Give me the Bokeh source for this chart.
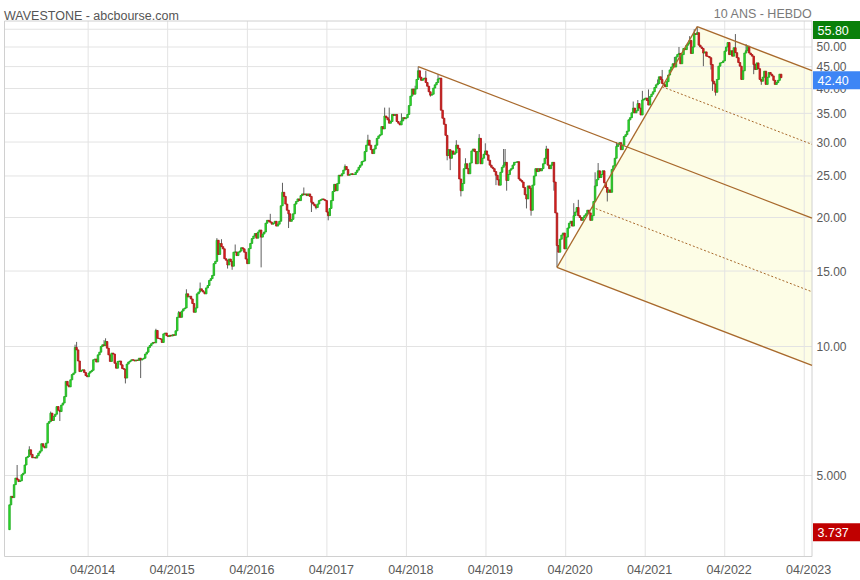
import numpy as np
import pandas as pd
from bokeh.plotting import figure
from bokeh.models import Range1d
from bokeh.core.properties import value
from bokeh.embed import file_html
from bokeh.resources import INLINE

# ---------------- data (weekly candles) ----------------
start_date = "2013-04-05"
first_open = 3.737
closes = [
    4.27, 4.47, 4.44, 4.76, 4.93, 4.89, 4.84, 4.86, 5.02, 5.06,
    5.29, 5.51, 5.54, 5.74, 5.60, 5.50, 5.51, 5.49, 5.56, 5.64,
    5.70, 5.93, 5.85, 5.80, 5.95, 6.62, 6.68, 6.99, 6.72, 6.87,
    6.95, 7.24, 7.10, 7.05, 7.30, 7.38, 7.64, 8.29, 8.12, 8.05,
    8.36, 8.60, 8.67, 9.95, 9.82, 9.25, 8.74, 8.80, 8.82, 8.70,
    8.55, 8.50, 8.67, 8.74, 8.80, 9.31, 9.35, 9.20, 9.56, 9.70,
    10.00, 10.09, 10.05, 10.27, 9.91, 9.56, 9.23, 9.65, 9.60, 9.14,
    8.90, 9.23, 9.25, 9.06, 8.88, 8.85, 8.44, 9.10, 9.20, 9.25,
    9.31, 9.30, 9.25, 9.30, 9.28, 9.39, 9.30, 9.35, 9.39, 9.60,
    9.70, 9.95, 10.05, 10.15, 10.22, 10.20, 10.90, 10.45, 10.44, 10.40,
    10.22, 10.70, 10.75, 10.60, 10.55, 10.62, 10.58, 10.65, 10.62, 10.88,
    11.70, 12.00, 11.70, 12.10, 12.24, 12.30, 13.27, 13.05, 13.10, 12.91,
    12.60, 12.02, 12.30, 13.27, 13.40, 13.63, 13.50, 13.40, 13.27, 13.70,
    13.88, 14.26, 14.40, 14.65, 15.61, 15.80, 17.70, 16.40, 17.39, 17.10,
    16.90, 16.03, 15.90, 15.50, 16.00, 15.80, 15.40, 16.60, 16.62, 16.30,
    16.60, 16.70, 17.00, 16.90, 16.60, 16.00, 15.61, 16.92, 17.40, 17.86,
    18.10, 18.35, 17.90, 18.50, 18.70, 18.00, 18.30, 18.50, 19.40, 19.70,
    19.60, 19.50, 19.30, 19.40, 19.60, 19.10, 19.30, 19.60, 21.30, 22.90,
    22.40, 21.50, 20.80, 20.40, 19.60, 19.80, 20.40, 21.50, 21.80, 22.10,
    21.90, 22.50, 22.70, 22.60, 22.70, 22.50, 22.70, 22.40, 21.70, 21.50,
    21.30, 21.10, 21.50, 21.90, 22.00, 22.10, 22.00, 21.90, 20.60, 20.20,
    21.00, 21.90, 23.00, 23.90, 23.10, 24.00, 25.10, 25.00, 25.30, 25.80,
    26.30, 25.90, 25.10, 25.20, 25.30, 25.20, 25.20, 25.50, 25.80, 26.20,
    26.50, 27.00, 27.10, 28.50, 29.50, 30.30, 29.50, 28.80, 28.20, 28.90,
    29.50, 30.60, 31.00, 31.20, 32.60, 32.20, 34.50, 34.20, 33.80, 33.20,
    33.50, 34.80, 34.60, 34.80, 33.50, 33.20, 32.90, 33.60, 34.20, 34.00,
    34.20, 34.80, 36.50, 38.40, 39.90, 38.80, 39.90, 42.00, 44.00, 42.50,
    41.80, 42.10, 42.30, 41.30, 40.50, 39.30, 38.60, 38.80, 40.10, 40.80,
    41.30, 42.10, 42.30, 35.60, 34.10, 33.00, 31.10, 27.90, 28.80, 27.50,
    28.60, 28.10, 28.30, 29.50, 29.00, 24.60, 23.10, 24.00, 26.00, 26.70,
    26.00, 25.30, 26.80, 28.60, 28.90, 28.50, 26.70, 28.50, 30.60, 26.70,
    27.50, 28.10, 28.60, 28.00, 27.20, 26.50, 26.20, 26.00, 25.60, 25.10,
    24.50, 23.80, 25.50, 26.20, 26.50, 26.90, 24.40, 25.20, 25.80, 26.00,
    26.50, 26.90, 26.90, 27.00, 24.60, 24.40, 24.20, 23.50, 22.60, 22.10,
    23.70, 23.40, 20.80, 23.80, 25.00, 26.00, 25.60, 26.00, 25.70, 26.00,
    26.70, 27.50, 28.90, 26.50, 26.00, 26.50, 26.90, 24.20, 20.50, 17.20,
    16.60, 17.80, 18.20, 18.40, 16.90, 18.00, 18.90, 19.40, 19.60, 19.10,
    20.20, 20.60, 21.10, 20.20, 20.00, 19.70, 20.00, 20.20, 20.40, 20.80,
    20.50, 19.70, 20.20, 21.80, 23.70, 24.50, 25.70, 24.80, 25.20, 25.70,
    24.10, 23.50, 22.90, 23.20, 22.90, 25.90, 26.40, 27.50, 29.30, 29.60,
    29.90, 28.80, 29.50, 30.90, 31.20, 31.80, 33.80, 34.20, 35.10, 36.00,
    35.10, 35.50, 36.90, 36.00, 34.70, 37.60, 37.80, 38.00, 37.50, 36.60,
    38.30, 38.80, 39.30, 40.20, 40.80, 41.10, 42.60, 42.00, 41.10, 40.80,
    40.40, 41.50, 43.00, 44.20, 44.90, 45.70, 44.90, 47.40, 48.00, 48.30,
    45.70, 48.00, 49.60, 49.30, 50.50, 51.00, 51.80, 48.30, 50.00, 53.70,
    53.50, 54.00, 50.50, 50.00, 49.60, 48.40, 48.70, 47.60, 47.50, 47.20,
    45.50, 41.60, 41.00, 39.20, 42.00, 45.10, 45.90, 46.00, 46.40, 48.90,
    50.00, 51.20, 48.00, 49.00, 47.60, 49.80, 48.50, 47.20, 46.00, 45.10,
    42.00, 44.00, 48.40, 49.00, 50.20, 48.40, 48.00, 47.60, 45.50, 44.30,
    45.90, 44.50, 42.00, 41.60, 42.50, 43.90, 40.90, 42.50, 43.60, 43.20,
    42.80, 41.80, 40.90, 41.30, 41.80, 43.20, 42.40,
]
# visible wick extremes (upper shadows / lower shadows)
wick_high_idx = [5, 13, 27, 43, 44, 62, 63, 96, 111, 116, 125, 136, 139, 148, 171,
                 179, 193, 220, 235, 246, 249, 257, 266, 268, 273, 281, 293, 299,
                 308, 312, 324, 325, 352, 370, 373, 384, 386, 398, 409, 412, 415,
                 419, 425, 428, 436, 439, 446, 449, 451, 476, 483]
wick_high_val = [5.29, 5.85, 7.05, 10.1, 10.25, 10.35, 10.45, 11.0, 12.1, 13.6, 14.1,
                 17.9, 17.8, 17.3, 20.4, 24.1, 23.5, 26.6, 31.2, 36.1, 36.1, 35.0,
                 40.6, 45.0, 44.0, 43.2, 30.3, 27.5, 31.3, 29.8, 28.9, 28.9, 29.4,
                 21.6, 22.0, 25.5, 26.8, 30.0, 37.3, 37.6, 39.5, 39.8, 42.0, 44.2,
                 47.4, 50.0, 53.0, 55.0, 55.8, 53.6, 50.8]
wick_low_idx = [0, 33, 76, 86, 143, 146, 165, 183, 198, 201, 209, 276, 287, 289, 296,
                319, 326, 339, 342, 357, 359, 392, 455, 460, 461, 463, 488, 493]
wick_low_val = [3.737, 6.7, 8.2, 8.44, 15.2, 15.1, 15.3, 18.9, 20.6, 20.9, 19.7, 38.3,
                27.2, 25.8, 22.4, 23.8, 23.1, 21.0, 20.2, 23.1, 15.3, 21.8, 45.1,
                44.3, 39.5, 38.5, 43.2, 40.8]
# Andrews pitchfork anchors: 2018 high, 2020 low, 2021 high
pivot_idx = [268, 359, 451]

y_ticks = [5, 10, 15, 20, 25, 30, 35, 40, 45, 50, 55]
y_tick_labels = ["5.000", "10.00", "15.00", "20.00", "25.00", "30.00", "35.00",
                 "40.00", "45.00", "50.00", "55.00"]
x_tick_years = [2014, 2015, 2016, 2017, 2018, 2019, 2020, 2021, 2022, 2023]
x_tick_labels = ["04/2014", "04/2015", "04/2016", "04/2017", "04/2018",
                 "04/2019", "04/2020", "04/2021", "04/2022", "04/2023"]
title_left = "WAVESTONE - abcbourse.com"
title_right = "10 ANS - HEBDO"

# ---------------- styles / layout (pixels) ----------------
FONT = "Liberation Sans"
UP_FILL, UP_LINE = "#30e830", "#1ea81e"
DN_FILL, DN_LINE = "#e82222", "#a81616"
WICK = "#5f5f5f"
FORK = "#a8692c"
GRID = "#e3e3e3"
FRAME = "#d0d0d0"
W, H = 860, 580
PLOT_L, PLOT_R, PLOT_T, PLOT_B = 4.0, 811.5, 20.5, 556.0
X0_PX, PX_PER_WEEK = 9.0, 1.525          # pixel of first candle, pixels per week
Y10_PX, PX_PER_DECADE = 346.0, 428.5     # pixel of price 10, pixels per decade


def xd(px):
    return (px - X0_PX) / PX_PER_WEEK


def yd(py):
    return 10 ** (1 + (Y10_PX - py) / PX_PER_DECADE)


def ypx(v):
    return Y10_PX - PX_PER_DECADE * np.log10(v / 10.0)


# ---------------- derived series ----------------
closes = np.array(closes, dtype=float)
n = len(closes)
idx = np.arange(n)
opens = np.concatenate([[first_open], closes[:-1]])
highs = np.maximum(opens, closes)
lows = np.minimum(opens, closes)
hi_i = np.array(wick_high_idx)
lo_i = np.array(wick_low_idx)
highs[hi_i] = np.maximum(highs[hi_i], wick_high_val)
lows[lo_i] = np.minimum(lows[lo_i], wick_low_val)
up = closes >= opens
body_top = np.maximum(opens, closes)
body_bot = np.minimum(opens, closes)
fills = [UP_FILL if u else DN_FILL for u in up]
edges = [UP_LINE if u else DN_LINE for u in up]

t0 = pd.Timestamp(start_date)
grid_pos = [(pd.Timestamp(f"{y}-04-01") - t0).days / 7.0 for y in x_tick_years]
label_pos = [g + 2.9 for g in grid_pos]

xl, xr = xd(PLOT_L), xd(PLOT_R)
yb, yt = yd(PLOT_B), yd(PLOT_T)

p = figure(width=W, height=H, x_range=Range1d(xd(0), xd(W)), y_range=Range1d(yd(H), yd(0)),
           y_axis_type="log", x_axis_location=None, y_axis_location=None,
           output_backend="svg", toolbar_location=None, min_border=0,
           background_fill_color="white", border_fill_color="white",
           outline_line_color=None)
p.grid.visible = False

# ---------------- pitchfork geometry (log space) ----------------
i1, i2, i3 = pivot_idx
u1, u2, u3 = np.log10(highs[i1]), np.log10(lows[i2]), np.log10(highs[i3])
xm, um = (i2 + i3) / 2.0, (u2 + u3) / 2.0
slope = (um - u1) / (xm - i1)


def end_val(x0, u0):
    return 10 ** (u0 + slope * (xr - x0))


p.patch([i2, i3, xr, xr], [10 ** u2, 10 ** u3, end_val(i3, u3), end_val(i2, u2)],
        fill_color="#fdfde6", line_color=None)

# ---------------- grid and frame ----------------
p.segment(x0=[xl] * len(y_ticks), x1=[xr] * len(y_ticks), y0=y_ticks, y1=y_ticks,
          line_color=GRID, line_width=1)
p.segment(x0=grid_pos, x1=grid_pos, y0=[yb] * len(grid_pos), y1=[yt] * len(grid_pos),
          line_color=GRID, line_width=1)
p.quad(left=[xl], right=[xr], bottom=[yb], top=[yt], fill_color=None,
       line_color=FRAME, line_width=1)

# ---------------- candles ----------------
p.segment(x0=idx, y0=lows, x1=idx, y1=highs, line_color=WICK, line_width=1)
p.vbar(x=idx, width=1.0, top=body_top, bottom=body_bot, fill_color=fills,
       line_color=edges, line_width=0.8)

# ---------------- pitchfork lines ----------------
for x0, u0 in ((i1, u1), (i3, u3), (i2, u2)):
    p.line([x0, xr], [10 ** u0, end_val(x0, u0)], line_color=FORK, line_width=1.3)
p.line([i2, i3], [10 ** u2, 10 ** u3], line_color=FORK, line_width=1.3)
for x0, u0 in (((i2 + xm) / 2.0, (u2 + um) / 2.0), ((xm + i3) / 2.0, (um + u3) / 2.0)):
    p.line([x0, xr], [10 ** u0, end_val(x0, u0)], line_color=FORK, line_width=1,
           line_dash="2 2")

# ---------------- axis labels ----------------
p.text(x=[xr] * len(y_ticks), y=y_ticks, text=y_tick_labels, x_offset=4.5,
       text_align="left", text_baseline="middle", text_color="#5a5a5a",
       text_font=value(FONT), text_font_size=value("12px"))
p.text(x=label_pos, y=[yd(569.5)] * len(label_pos), text=x_tick_labels,
       text_align="center", text_baseline="middle", text_color="#5a5a5a",
       text_font=value(FONT), text_font_size=value("12.5px"))


def fmt(v):
    return f"{v:.2f}" if v >= 10 else f"{v:.3f}"


# ---------------- price flags (max, last, min) ----------------
flag_vals = [highs.max(), closes[-1], lows.min()]
flag_cols = ["#0a800a", "#3d85f5", "#c00000"]
flag_cy = [yd(float(np.clip(ypx(v) + 2.5, PLOT_T + 9, PLOT_B - 9))) for v in flag_vals]
p.rect(x=[xd((PLOT_R + 1 + W) / 2.0)] * 3, y=flag_cy, width=W - PLOT_R - 1, height=18,
       width_units="screen", height_units="screen", fill_color=flag_cols, line_color=None)
p.text(x=[xr] * 3, y=flag_cy, text=[fmt(v) for v in flag_vals], x_offset=5.5,
       text_align="left", text_baseline="middle", text_color="white",
       text_font=value(FONT), text_font_size=value("12.5px"))

# ---------------- titles ----------------
p.text(x=[xd(3.5)], y=[yd(15.5)], text=[title_left], text_align="left",
       text_baseline="alphabetic", text_color="#555555",
       text_font=value(FONT), text_font_size=value("12.5px"))
p.text(x=[xd(812.0)], y=[yd(13.5)], text=[title_right], text_align="right",
       text_baseline="alphabetic", text_color="#7a7a7a",
       text_font=value(FONT), text_font_size=value("12.5px"))

open("out.html", "w").write(file_html(p, INLINE))
